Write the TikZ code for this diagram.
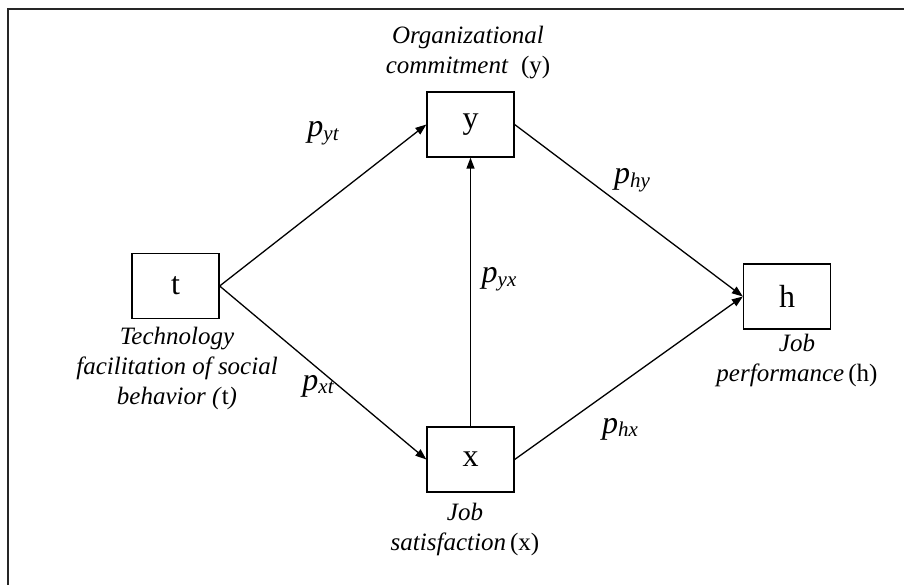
\documentclass[tikz,border=0pt]{standalone}
\usepackage{fontspec}
\setmainfont{Liberation Serif}
\usetikzlibrary{arrows.meta}

\tikzset{
  var/.style={draw, line width=1.3pt, minimum width=87pt, minimum height=65pt,
              inner sep=0pt, font=\fontsize{32}{36}\selectfont},
  path/.style={draw, line width=1.3pt, -{Triangle[length=11pt,width=8pt]}},
  desc/.style={align=center, font=\fontsize{25}{30}\selectfont, inner sep=0pt},
  coef/.style={inner sep=0pt, font=\fontsize{32}{36}\selectfont\itshape}
}
\newcommand{\coefl}[1]{p\raisebox{-0.25ex}{\fontsize{21}{24}\selectfont #1}}

\begin{document}
\begin{tikzpicture}[x=1pt, y=-1pt]
  \useasboundingbox (0,0) rectangle (904,585);
  % frame edges
  \draw[line width=2.2pt, black!85] (8,585) -- (8,9) -- (904,9);

  % variables
  \node[var] (t) at (175.5,286) {t};
  \node[var] (y) at (470.5,124.5) {y};
  \node[var] (x) at (470.5,459.5) {x};
  \node[var] (h) at (787,296.5) {h};

  % paths
  \draw[path] (t.east) -- (y.west);
  \draw[path] (t.east) -- (x.west);
  \draw[path] (x.north) -- (y.south);
  \draw[path] (y.east) -- (h.west);
  \draw[path] (x.east) -- (h.west);

  % path coefficients
  \node[coef] (pyt) at (323,133) {\coefl{yt}};
  \node[coef] (pxt) at (318,386) {\coefl{xt}};
  \node[coef] (pyx) at (499,279) {\coefl{yx}};
  \node[coef] (phy) at (632,180) {\coefl{hy}};
  \node[coef] (phx) at (620,429) {\coefl{hx}};

  % descriptions
  \node[desc] (dy) at (468,53) {\textit{Organizational}\\\textit{commitment}\ \ (y)};
  \node[desc] (dt) at (177,368) {\textit{Technology}\\\textit{facilitation of social}\\\textit{behavior} \textit{(}t\textit{)}};
  \node[desc] (dx) at (465,529) {\textit{Job}\\\textit{satisfaction}\,(x)};
  \node[desc] (dh) at (797,360) {\textit{Job}\\\textit{performance}\,(h)};
\end{tikzpicture}
\end{document}
